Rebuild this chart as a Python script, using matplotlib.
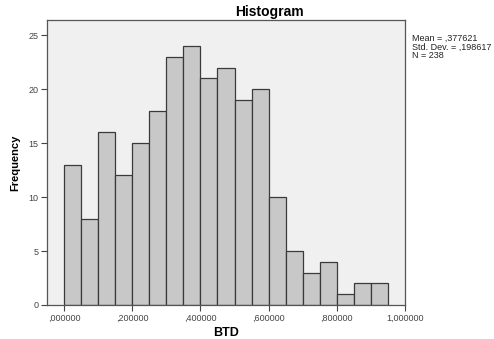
import matplotlib
matplotlib.use("Agg")
import matplotlib.pyplot as plt
import numpy as np

plt.rcParams['font.family'] = ['Liberation Sans', 'DejaVu Sans']

# Histogram of BTD: bin edges (width 0.05) and frequencies
bin_edges = np.round(np.arange(0.0, 0.95 + 1e-9, 0.05), 2)
counts = [13, 8, 16, 12, 15, 18, 23, 24, 21, 22, 19, 20, 10, 5, 3, 4, 1, 2, 2]
x_ticks = [0.0, 0.2, 0.4, 0.6, 0.8, 1.0]
x_tick_labels = [",000000", ",200000", ",400000", ",600000", ",800000", "1,000000"]
y_ticks = [0, 5, 10, 15, 20, 25]
stats_text = "Mean = ,377621\nStd. Dev. = ,198617\nN = 238"

fig = plt.figure(figsize=(4.94, 3.39), dpi=100)
ax = fig.add_axes([47 / 494, 1 - 305 / 339, (405 - 47) / 494, (305 - 20) / 339])
ax.set_facecolor("#f0f0f0")

ax.bar(bin_edges[:-1], counts, width=0.05, align="edge",
       color="#c8c8c8", edgecolor="#3a3a3a", linewidth=0.9)

ax.set_xlim(-0.05, 1.0)
ax.set_ylim(0, 26.4)
ax.set_xticks(x_ticks)
ax.set_xticklabels(x_tick_labels)
ax.set_yticks(y_ticks)
ax.tick_params(axis="both", labelsize=6.5, colors="#444444", length=4, width=0.8,
               direction="out", pad=2)
for side in ax.spines.values():
    side.set_color("#555555")
    side.set_linewidth(0.9)

ax.set_xlabel("BTD", fontsize=9, fontweight="bold", labelpad=3)
ax.set_ylabel("Frequency", fontsize=8, fontweight="bold", labelpad=6)
fig.text(269 / 494, 1 - 12 / 339, "Histogram", fontsize=10, fontweight="bold",
         ha="center", va="center")

fig.text(412 / 494, 1 - 34 / 339, stats_text, fontsize=6.5, va="top", ha="left",
         linespacing=0.95, color="#222222")

fig.savefig("out.png", dpi=100)
